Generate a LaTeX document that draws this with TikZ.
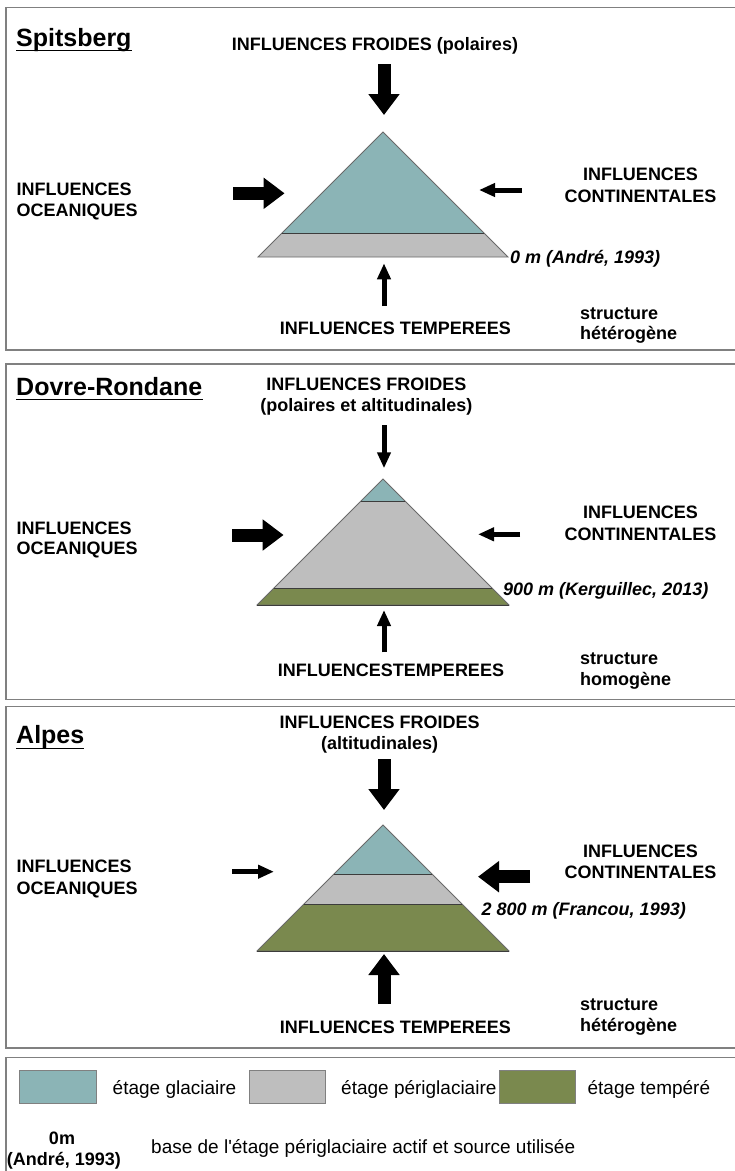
\documentclass[tikz,border=0pt]{standalone}
\usepackage{fontspec}
\setmainfont{Liberation Sans}[Ligatures=TeXOff]
\usetikzlibrary{arrows.meta}
\definecolor{glac}{RGB}{139,180,182}
\definecolor{peri}{RGB}{190,190,190}
\definecolor{temp}{RGB}{122,137,78}
\definecolor{framec}{RGB}{128,128,128}
\definecolor{edgec}{RGB}{105,105,105}
\definecolor{layc}{RGB}{60,60,60}
\begin{document}
\begin{tikzpicture}[x=1pt,y=-1pt,
  lab/.style={font=\bfseries\fontsize{18}{21}\selectfont, inner sep=0},
  labw/.style={lab, anchor=base west},
  labc/.style={lab, anchor=base},
  ttl/.style={font=\bfseries\fontsize{25}{30}\selectfont, inner sep=0, anchor=base west},
  alt/.style={font=\bfseries\itshape\fontsize{18}{21}\selectfont, inner sep=0, anchor=base west},
  leg/.style={font=\fontsize{19}{23}\selectfont, inner sep=0, anchor=base west},
  frame/.style={draw=framec, line width=1.5pt},
  edge/.style={draw=edgec, line width=0.8pt, line join=miter},
  layline/.style={draw=layc, line width=1pt},
  thickarrow/.style={line width=13pt, -{Triangle[width=30pt,length=21pt]}},
  thinarrow/.style={line width=5pt, -{Triangle[width=13pt,length=16pt]}},
  swatch/.style={draw=framec, line width=0.8pt, inner sep=0}]
\useasboundingbox (0,0) rectangle (735,1171);
\clip (0,0) rectangle (735,1171);
\fill[white] (0,0) rectangle (735,1171);

% ---------- frames ----------
\draw[frame] (6,7.3) rectangle (745,350);
\draw[frame] (6,364) rectangle (745,699.3);
\draw[frame] (6,706.7) rectangle (745,1048);
\draw[frame] (6,1057.7) rectangle (745,1185);

% ================= PANEL 1 : Spitsberg =================
\node[ttl] (t1) at (16,46.7) {Spitsberg};
\draw[line width=1.6pt] ([yshift=-3.6pt]t1.base west) -- ([yshift=-3.6pt]t1.base east);
\node[labc] (f1) at (375,50) {INFLUENCES FROIDES (polaires)};
\node[labw] (o1a) at (16.4,195) {INFLUENCES};
\node[labw] (o1b) at (16.4,216) {OCEANIQUES};
\node[labc] (c1a) at (640.5,180.5) {INFLUENCES};
\node[labc] (c1b) at (640.5,202) {CONTINENTALES};
\node[labc] (te1) at (395.5,334.5) {INFLUENCES TEMPEREES};
\node[labw] (s1a) at (580,319) {structure};
\node[labw] (s1b) at (580,339) {hétérogène};
\node[alt] (a1) at (510,263) {0 m (André, 1993)};
% pyramid
\fill[glac] (383,132) -- (484.3,233.3) -- (281.7,233.3) -- cycle;
\fill[peri] (281.7,233.3) -- (484.3,233.3) -- (508,257) -- (258,257) -- cycle;
\draw[edge] (383,132) -- (508,257) -- (258,257) -- cycle;
\draw[layline] (281.7,233.3) -- (484.3,233.3);
% arrows
\coordinate (n1s) at (384,64);  \coordinate (n1e) at (384,115);
\coordinate (w1s) at (233,193.3); \coordinate (w1e) at (284.6,193.3);
\coordinate (e1s) at (522,190); \coordinate (e1e) at (479,190);
\coordinate (b1s) at (384,306); \coordinate (b1e) at (384,263.3);
\draw[thickarrow] (n1s) -- (n1e);
\draw[thickarrow] (w1s) -- (w1e);
\draw[thinarrow] (e1s) -- (e1e);
\draw[thinarrow] (b1s) -- (b1e);

% ================= PANEL 2 : Dovre-Rondane =================
\node[ttl] (t2) at (16,395) {Dovre-Rondane};
\draw[line width=1.6pt] ([yshift=-4.5pt]t2.base west) -- ([yshift=-4.5pt]t2.base east);
\node[labc] (f2a) at (366.3,390) {INFLUENCES FROIDES};
\node[labc] (f2b) at (366.3,411) {(polaires et altitudinales)};
\node[labw] (o2a) at (16.4,534) {INFLUENCES};
\node[labw] (o2b) at (16.4,554.5) {OCEANIQUES};
\node[labc] (c2a) at (640.5,518) {INFLUENCES};
\node[labc] (c2b) at (640.5,540) {CONTINENTALES};
\node[labc] (te2) at (391,676.5) {INFLUENCESTEMPEREES};
\node[labw] (s2a) at (580,664.3) {structure};
\node[labw] (s2b) at (580,685) {homogène};
\node[alt] (a2) at (503,595) {900 m (Kerguillec, 2013)};
% pyramid
\fill[glac] (383,479) -- (405,501) -- (361,501) -- cycle;
\fill[peri] (361,501) -- (405,501) -- (492.3,588.3) -- (273.7,588.3) -- cycle;
\fill[temp] (273.7,588.3) -- (492.3,588.3) -- (509,605) -- (257,605) -- cycle;
\draw[edge] (383,479) -- (509,605) -- (257,605) -- cycle;
\draw[layline] (361,501) -- (405,501);
\draw[layline] (273.7,588.3) -- (492.3,588.3);
\draw[layline] (257,605) -- (509,605);
% arrows
\coordinate (n2s) at (384,425);  \coordinate (n2e) at (384,468.3);
\coordinate (w2s) at (232,535); \coordinate (w2e) at (283.6,535);
\coordinate (e2s) at (520,534.3); \coordinate (e2e) at (478,534.3);
\coordinate (b2s) at (384,652.3); \coordinate (b2e) at (384,610);
\draw[thinarrow] (n2s) -- (n2e);
\draw[thickarrow] (w2s) -- (w2e);
\draw[thinarrow] (e2s) -- (e2e);
\draw[thinarrow] (b2s) -- (b2e);

% ================= PANEL 3 : Alpes =================
\node[ttl] (t3) at (16,743.3) {Alpes};
\draw[line width=1.6pt] ([yshift=-5pt]t3.base west) -- ([yshift=-5pt]t3.base east);
\node[labc] (f3a) at (379.6,728) {INFLUENCES FROIDES};
\node[labc] (f3b) at (379.6,749) {(altitudinales)};
\node[labw] (o3a) at (16.4,872) {INFLUENCES};
\node[labw] (o3b) at (16.4,894) {OCEANIQUES};
\node[labc] (c3a) at (640.5,857) {INFLUENCES};
\node[labc] (c3b) at (640.5,878) {CONTINENTALES};
\node[labc] (te3) at (395.5,1033) {INFLUENCES TEMPEREES};
\node[labw] (s3a) at (580,1010) {structure};
\node[labw] (s3b) at (580,1031) {hétérogène};
\node[alt] (a3) at (481.5,915) {2 800 m (Francou, 1993)};
% pyramid
\fill[glac] (383,825) -- (432,874) -- (334,874) -- cycle;
\fill[peri] (334,874) -- (432,874) -- (462.3,904.3) -- (303.7,904.3) -- cycle;
\fill[temp] (303.7,904.3) -- (462.3,904.3) -- (509,951) -- (257,951) -- cycle;
\draw[edge] (383,825) -- (509,951) -- (257,951) -- cycle;
\draw[layline] (334,874) -- (432,874);
\draw[layline] (303.7,904.3) -- (462.3,904.3);
\draw[layline] (257,951) -- (509,951);
% arrows
\coordinate (n3s) at (384,759.3);  \coordinate (n3e) at (384,810);
\coordinate (w3s) at (232,871.7); \coordinate (w3e) at (274,871.7);
\coordinate (e3s) at (530,876.7); \coordinate (e3e) at (478,876.7);
\coordinate (b3s) at (384,1004); \coordinate (b3e) at (384,954);
\draw[thickarrow] (n3s) -- (n3e);
\draw[thinarrow] (w3s) -- (w3e);
\draw[thickarrow] (e3s) -- (e3e);
\draw[thickarrow] (b3s) -- (b3e);

% ================= LEGEND =================
\draw[swatch, fill=glac] (19.7,1070) rectangle (96,1103.3);
\draw[swatch, fill=peri] (249.4,1070) rectangle (325,1103.3);
\node[leg] (lg) at (112.5,1094) {étage glaciaire};
\node[leg] (lp) at (341,1094) {étage périglaciaire};
\draw[swatch, fill=temp] (499,1070) rectangle (575,1103.3);
\node[leg] (lt) at (587.4,1094) {étage tempéré};
\node[lab, anchor=base] (l0a) at (62,1144.5) {0m};
\node[lab, anchor=base] (l0b) at (64,1165.5) {(André, 1993)};
\node[leg] (lb) at (151,1153.5) {base de l'étage périglaciaire actif et source utilisée};
\end{tikzpicture}
\end{document}
